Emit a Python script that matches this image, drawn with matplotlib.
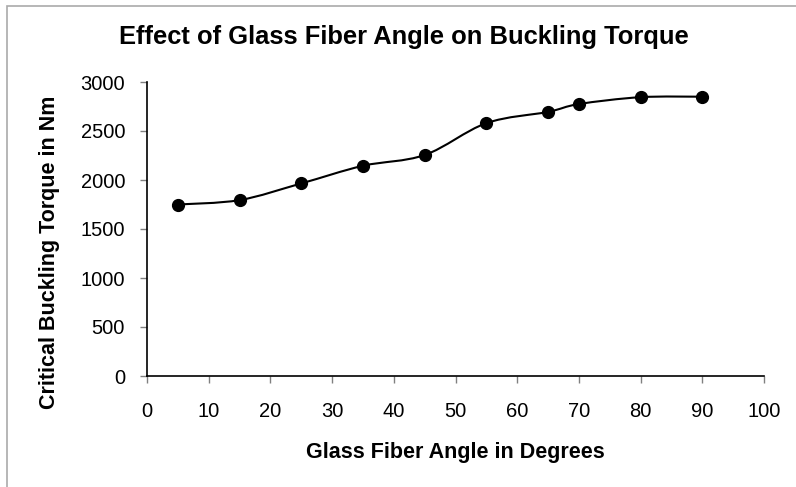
#!/usr/bin/env python3

import matplotlib
matplotlib.use('Agg')
import matplotlib.pyplot as plt
import numpy as np
from matplotlib.path import Path
from matplotlib.patches import PathPatch, Rectangle

# DATA
angle_deg = [5, 15, 25, 35, 45, 55, 65, 70, 80, 90]
torque_nm = [1750, 1795, 1965, 2145, 2255, 2580, 2695, 2775, 2845, 2850]

x_ticks = [0, 10, 20, 30, 40, 50, 60, 70, 80, 90, 100]
y_ticks = [0, 500, 1000, 1500, 2000, 2500, 3000]

plt.rcParams['font.family'] = ['Liberation Sans', 'DejaVu Sans']

W, H = 796, 487


# Smoothed line like a spreadsheet chart: Bezier segments through the points
def smooth_path(xs, ys):
    pts = np.column_stack([xs, ys]).astype(float)
    n = len(pts)
    verts = [pts[0]]
    codes = [Path.MOVETO]
    for i in range(n - 1):
        p0 = pts[i - 1] if i > 0 else pts[i]
        p1 = pts[i]
        p2 = pts[i + 1]
        p3 = pts[i + 2] if i + 2 < n else pts[i + 1]
        c1 = p1 + (p2 - p0) / 6.0
        c2 = p2 - (p3 - p1) / 6.0
        verts += [c1, c2, p2]
        codes += [Path.CURVE4] * 3
    return Path(verts, codes)


fig = plt.figure(figsize=(W / 100, H / 100), dpi=100)
ax = fig.add_axes([147 / W, 1 - 376 / H, (764 - 147) / W, (376 - 82) / H])

ax.add_patch(PathPatch(smooth_path(angle_deg, torque_nm), facecolor='none',
                       edgecolor='black', linewidth=1.5, zorder=2))
ax.plot(angle_deg, torque_nm, linestyle='none', marker='o', markersize=8.5,
        color='black', zorder=3)

ax.set_xlim(0, 100)
ax.set_ylim(0, 3000)
ax.set_xticks(x_ticks)
ax.set_yticks(y_ticks)
ax.tick_params(axis='both', direction='out', length=5, width=1, color='#808080',
               labelsize=14.5)
ax.tick_params(axis='x', pad=13.5)
ax.tick_params(axis='y', pad=10.8)

for side in ['top', 'right']:
    ax.spines[side].set_visible(False)
for side in ['left', 'bottom']:
    ax.spines[side].set_linewidth(1.2)
    ax.spines[side].set_color('black')

fig.text(455 / W, 1 - 458 / H, 'Glass Fiber Angle in Degrees',
         ha='center', va='baseline', fontsize=15.5, fontweight='bold')
fig.text(50 / W, 1 - 252 / H, 'Critical Buckling Torque in Nm', rotation=90,
         ha='center', va='center', fontsize=15.5, fontweight='bold')
fig.text(404 / W, 1 - 44 / H, 'Effect of Glass Fiber Angle on Buckling Torque',
         ha='center', va='baseline', fontsize=18.4, fontweight='bold')

# chart border
fig.patches.append(Rectangle((7 / W, -0.1), 1.2, 1 - 6 / H + 0.1,
                             transform=fig.transFigure, fill=False,
                             edgecolor='#aaaaaa', linewidth=1.2))

fig.savefig('out.png', dpi=100)
